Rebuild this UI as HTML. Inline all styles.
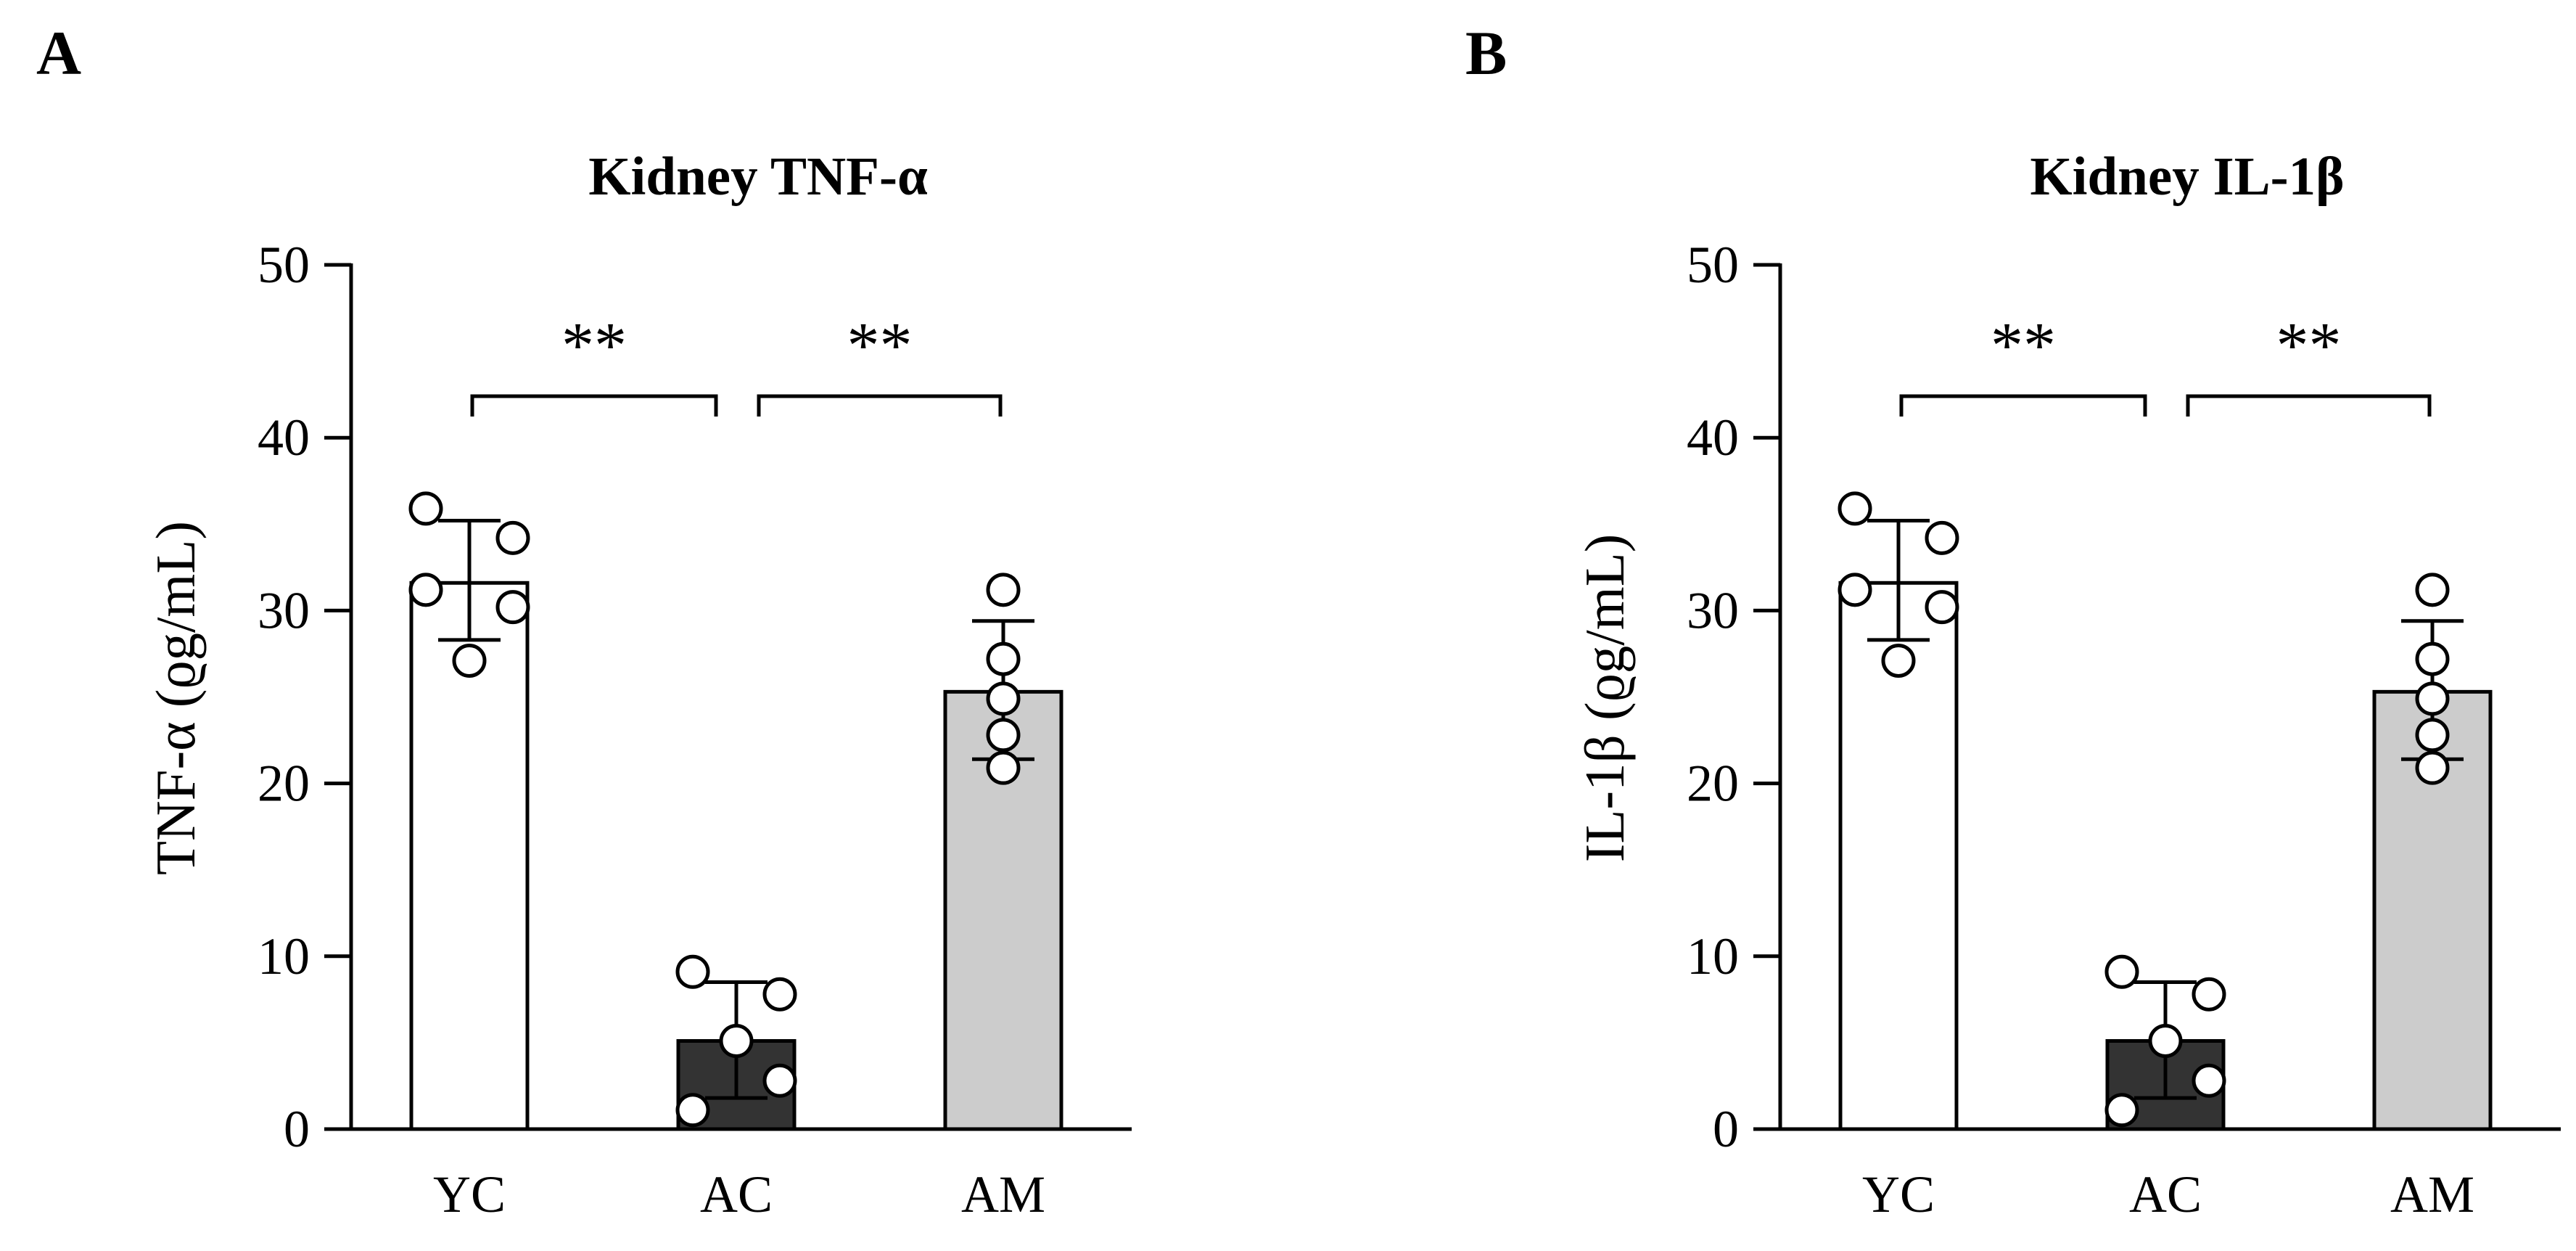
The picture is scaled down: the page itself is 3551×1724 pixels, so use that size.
<!DOCTYPE html>
<html><head><meta charset="utf-8"><style>
html,body{margin:0;padding:0;background:#fff;}
svg{display:block;}
text{font-family:"Liberation Serif",serif;fill:#000;}
</style></head><body>
<svg id="chart" width="3551" height="1724" viewBox="0 0 3551 1724" xmlns="http://www.w3.org/2000/svg"></svg>
<script>
const categories = ["YC","AC","AM"];
const barMeans = [31.6, 5.1, 25.3];
const sdUpper = [35.2, 8.5, 29.4];
const sdLower = [28.3, 1.8, 21.4];
const pointsYC = [35.9, 34.2, 31.2, 30.2, 27.1];
const pointsAC = [9.1, 7.8, 5.1, 2.8, 1.1];
const pointsAM = [31.2, 27.2, 24.9, 22.8, 20.9];
const jitterYC = [-1, 1, -1, 1, 0];
const jitterAC = [-1, 1, 0, 1, -1];
const jitterAM = [0, 0, 0, 0, 0];
const yTicks = [0, 10, 20, 30, 40, 50];
const panelLetters = ["A","B"];
const panelTitles = ["Kidney TNF-\u03b1","Kidney IL-1\u03b2"];
const yTitles = ["TNF-\u03b1 (\u03f1g/mL)","IL-1\u03b2 (\u03f1g/mL)"];
const sigLabels = ["**","**"];
const brackets = [[0,1],[1,2]];
const bracketLevel = 42.4;

const NS="http://www.w3.org/2000/svg";
const svg=document.getElementById('chart');
function mk(tag,attrs,parent,text){const e=document.createElementNS(NS,tag);for(const k in attrs)e.setAttribute(k,attrs[k]);if(text!==undefined)e.textContent=text;(parent||svg).appendChild(e);return e;}
const fills=["#ffffff","#333333","#cccccc"];
const pts=[pointsYC,pointsAC,pointsAM];
const jit=[jitterYC,jitterAC,jitterAM];

[0,1].forEach(p=>{
  const ox=p*1970;
  const axX=484+ox, y0=1556, yTop=365, xEnd=1560+ox;
  const yS=v=>y0-(v-0)/(50-0)*(y0-yTop);
  const xC=i=>647+ox+i*368;
  const g=mk('g',{});
  
  
  const L=mk('text',{x:50+ox,y:102,'font-size':86,'font-weight':'bold'},g,panelLetters[p]);
  
  const T=mk('text',{x:1045+ox,y:268,'font-size':75,'font-weight':'bold','text-anchor':'middle'},g,panelTitles[p]);
  
  const YT=mk('text',{x:0,y:0,'font-size':77,'text-anchor':'middle',transform:'translate('+(268+ox)+',962) rotate(-90)'},g,yTitles[p]);
  
  categories.forEach((c,i)=>{
    const r=mk('rect',{x:xC(i)-80,y:yS(barMeans[i]),width:160,height:y0-yS(barMeans[i]),fill:fills[i],stroke:'#000','stroke-width':5},g);
    
  });
  categories.forEach((c,i)=>{
    const e=mk('g',{stroke:'#000','stroke-width':5},g);
    
    mk('line',{x1:xC(i),x2:xC(i),y1:yS(sdUpper[i]),y2:yS(sdLower[i])},e);
    mk('line',{x1:xC(i)-43,x2:xC(i)+43,y1:yS(sdUpper[i]),y2:yS(sdUpper[i])},e);
    mk('line',{x1:xC(i)-43,x2:xC(i)+43,y1:yS(sdLower[i]),y2:yS(sdLower[i])},e);
  });
  categories.forEach((c,i)=>{
    pts[i].forEach((v,k)=>{
      const ci=mk('circle',{cx:xC(i)+jit[i][k]*60,cy:yS(v),r:21,fill:'#fff',stroke:'#000','stroke-width':5},g);
      
    });
  });
  const ax=mk('g',{stroke:'#000','stroke-width':5,fill:'none'},g);
  
  mk('line',{x1:axX,x2:axX,y1:yTop-2,y2:y0+2},ax);
  mk('line',{x1:axX-37,x2:xEnd,y1:y0,y2:y0},ax);
  yTicks.forEach(t=>{
    mk('line',{x1:axX-37,x2:axX,y1:yS(t),y2:yS(t)},ax);
    const tl=mk('text',{x:axX-57,y:yS(t)+24,'font-size':72,'text-anchor':'end'},g,String(t));
    
  });
  categories.forEach((c,i)=>{
    const xl=mk('text',{x:xC(i),y:1670,'font-size':72,'text-anchor':'middle'},g,c);
    
  });
  brackets.forEach((b,j)=>{
    const x1=xC(b[0])+(j===0?4:31), x2=xC(b[1])-(j===0?28:4);
    const by=yS(bracketLevel);
    const br=mk('path',{d:`M${x1},${by+28} V${by} H${x2} V${by+28}`,stroke:'#000','stroke-width':5,fill:'none'},g);
    
    const s=mk('text',{x:(x1+x2)/2,y:by-40,'font-size':90,'text-anchor':'middle'},g,sigLabels[j]);
    
  });
});
</script>
</body></html>
